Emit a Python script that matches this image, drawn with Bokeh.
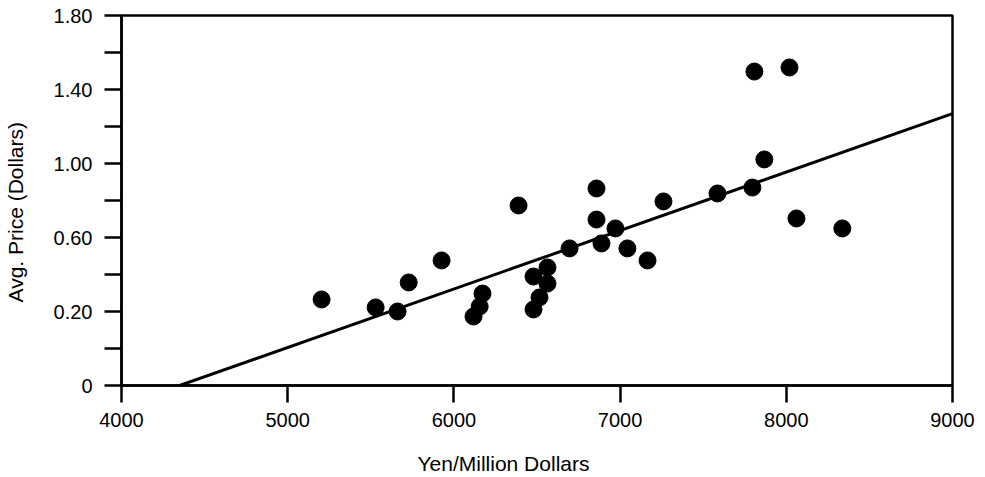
from bokeh.plotting import figure
from bokeh.models import Range1d, FixedTicker, Title
from bokeh.embed import file_html
from bokeh.resources import INLINE

# ---- data ----
yen_per_million = [5204, 5529, 5661, 5728, 5926, 6118, 6155, 6172, 6389, 6479,
                   6563, 6563, 6515, 6479, 6696, 6858, 6858, 6888, 6972, 7044,
                   7165, 7261, 7586, 7796, 7808, 7868, 8019, 8061, 8337]
avg_price = [0.265, 0.222, 0.200, 0.357, 0.476, 0.173, 0.227, 0.297, 0.773, 0.389,
             0.438, 0.351, 0.276, 0.211, 0.541, 0.865, 0.697, 0.568, 0.649, 0.541,
             0.476, 0.795, 0.838, 0.870, 1.497, 1.022, 1.519, 0.703, 0.649]

fit_x = [4350, 9000]
fit_y = [-0.2, 1.27]

x_ticks = [4000, 5000, 6000, 7000, 8000, 9000]
y_ticks = [-0.2, 0.0, 0.2, 0.4, 0.6, 0.8, 1.0, 1.2, 1.4, 1.6, 1.8]
y_tick_labels = ["0", "", "0.20", "", "0.60", "", "1.00", "", "1.40", "", "1.80"]

x_title = "Yen/Million Dollars"
y_title = "Avg. Price (Dollars)"

FONT = "Liberation Sans"

p = figure(width=977, height=477,
           x_range=Range1d(4000, 9000), y_range=Range1d(-0.2, 1.8),
           output_backend="svg", toolbar_location=None,
           min_border_left=121, min_border_right=25,
           min_border_top=15, min_border_bottom=92)

p.background_fill_color = "white"
p.border_fill_color = "white"
p.outline_line_color = "black"
p.outline_line_width = 2.5
p.grid.visible = False

for ax in (p.xaxis[0], p.yaxis[0]):
    ax.axis_line_color = "black"
    ax.axis_line_width = 2.5
    ax.major_tick_line_color = "black"
    ax.major_tick_line_width = 2.5
    ax.major_tick_in = 0
    ax.major_tick_out = 17
    ax.minor_tick_line_color = None
    ax.major_label_text_font = FONT
    ax.major_label_text_font_size = "20px"
    ax.major_label_text_color = "black"

p.xaxis.ticker = FixedTicker(ticks=x_ticks)
p.xaxis.major_label_standoff = 10
p.yaxis.ticker = FixedTicker(ticks=y_ticks)
p.yaxis.major_label_overrides = dict(zip(y_ticks, y_tick_labels))
p.yaxis.major_label_standoff = 12

p.line(fit_x, fit_y, line_color="black", line_width=3)
p.scatter(yen_per_million, avg_price, size=17, fill_color="black", line_color="black")

p.add_layout(Title(text=x_title, align="left", offset=296, standoff=0,
                   padding=dict(top=20, bottom=0, left=0, right=0),
                   text_font=FONT, text_font_size="21px", text_font_style="normal",
                   text_color="black"), "below")

p.add_layout(Title(text=y_title, align="left", offset=83, standoff=0,
                   padding=dict(top=0, bottom=24, left=0, right=0),
                   text_font=FONT, text_font_size="21px", text_font_style="normal",
                   text_color="black"), "left")

open("out.html", "w").write(file_html(p, INLINE))
